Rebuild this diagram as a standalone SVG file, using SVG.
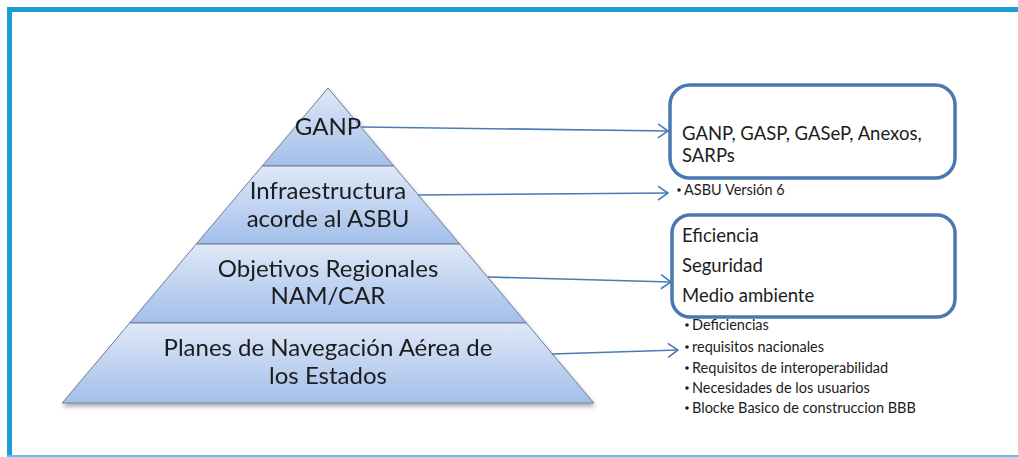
<svg xmlns="http://www.w3.org/2000/svg" width="1018" height="457" viewBox="0 0 1018 457">
<style>
.tier{stroke:#6f7f99;stroke-width:1}
.tt{font-family:Lato,"Liberation Sans",sans-serif;font-size:24px;fill:#1c1c1c;text-anchor:middle}
.box{fill:#fff;stroke:#4a78b0;stroke-width:3.5}
.bt{font-family:Lato,"Liberation Sans",sans-serif;font-size:18.5px;fill:#1c1c1c}
.sm{font-family:Lato,"Liberation Sans",sans-serif;font-size:14.5px;fill:#1c1c1c}
.bul{fill:#1c1c1c}
.conn{stroke:#4a7bb5;stroke-width:1.6;fill:none;marker-end:url(#ah)}
</style>
<defs>
<linearGradient id="g" x1="0" y1="0" x2="0" y2="1">
<stop offset="0" stop-color="#dfe8f7"/>
<stop offset="1" stop-color="#a3bfea"/>
</linearGradient>
<marker id="ah" viewBox="0 0 12 16" refX="11" refY="8" markerWidth="12" markerHeight="16" markerUnits="userSpaceOnUse" orient="auto">
<path d="M1,1 L11,8 L1,15" fill="none" stroke="#4a7bb5" stroke-width="1.6"/>
</marker>
<filter id="sh" x="-10%" y="-10%" width="120%" height="130%">
<feGaussianBlur in="SourceAlpha" stdDeviation="2"/>
<feOffset dx="1" dy="3"/>
<feComponentTransfer><feFuncA type="linear" slope="0.35"/></feComponentTransfer>
<feMerge><feMergeNode/><feMergeNode in="SourceGraphic"/></feMerge>
</filter>
</defs>
<rect width="1018" height="457" fill="#fff"/>
<g id="frame">
<rect x="7" y="7" width="1011" height="5" fill="#1a9dd9"/>
<rect x="7" y="7" width="5" height="450" fill="#1a9dd9"/>
<rect x="7" y="455" width="1011" height="2" fill="#5cc0ea"/>
</g>
<g id="pyramid" filter="url(#sh)">
<g id="tier-ganp">
<polygon class="tier" fill="url(#g)" points="328,88 393.8,166 262.2,166"/>
<text class="tt" x="328" y="135">GANP</text>
</g>
<g id="tier-infra">
<polygon class="tier" fill="url(#g)" points="262.2,166 393.8,166 459.7,244 196.3,244"/>
<text class="tt" x="328" y="199">Infraestructura</text>
<text class="tt" x="328" y="227">acorde al ASBU</text>
</g>
<g id="tier-objetivos">
<polygon class="tier" fill="url(#g)" points="196.3,244 459.7,244 526.3,323 129.7,323"/>
<text class="tt" x="328" y="277">Objetivos Regionales</text>
<text class="tt" x="328" y="304">NAM/CAR</text>
</g>
<g id="tier-planes">
<polygon class="tier" fill="url(#g)" points="129.7,323 526.3,323 593.8,403 62.2,403"/>
<text class="tt" x="328" y="356">Planes de Navegación Aérea de</text>
<text class="tt" x="328" y="384">los Estados</text>
</g>
</g>
<g id="connectors">
<path class="conn" d="M362,127 L668,131"/>
<path class="conn" d="M418,195 L668,193"/>
<path class="conn" d="M488,277 L671,282"/>
<path class="conn" d="M552,354 L678,350"/>
</g>
<g id="box-ganp">
<rect class="box" x="670" y="85" width="285" height="93" rx="20"/>
<text class="bt" x="682" y="140">GANP, GASP, GASeP, Anexos,</text>
<text class="bt" x="682" y="162">SARPs</text>
</g>
<g id="note-asbu">
<circle class="bul" cx="679" cy="190" r="1.8"/>
<text class="sm" x="684" y="195" font-size="15">ASBU Versión  6</text>
</g>
<g id="box-objetivos">
<rect class="box" x="672" y="215" width="283" height="102" rx="18"/>
<text class="bt" x="682" y="242">Eficiencia</text>
<text class="bt" x="682" y="272">Seguridad</text>
<text class="bt" x="682" y="302">Medio ambiente</text>
</g>
<g id="note-planes">
<circle class="bul" cx="687" cy="325" r="1.8"/>
<text class="sm" x="692" y="330">Deficiencias</text>
<circle class="bul" cx="687" cy="347" r="1.8"/>
<text class="sm" x="692" y="352">requisitos  nacionales</text>
<circle class="bul" cx="687" cy="368" r="1.8"/>
<text class="sm" x="692" y="373">Requisitos  de interoperabilidad</text>
<circle class="bul" cx="687" cy="388" r="1.8"/>
<text class="sm" x="692" y="393">Necesidades  de los usuarios</text>
<circle class="bul" cx="687" cy="408" r="1.8"/>
<text class="sm" x="692" y="413">Blocke Basico de construccion BBB</text>
</g>
</svg>
